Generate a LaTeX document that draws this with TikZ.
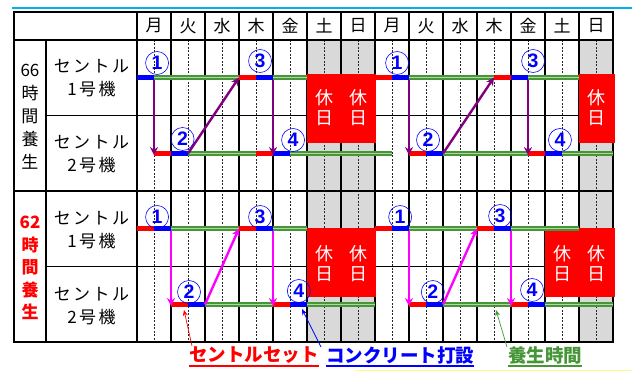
\documentclass[tikz,border=0pt]{standalone}
\usepackage{fontspec}
\setmainfont{Noto Sans CJK JP}
\newfontfamily\digitfont{Liberation Sans}
\usetikzlibrary{arrows.meta}
\definecolor{cgreen}{RGB}{70,150,55}
\definecolor{cgreenl}{RGB}{175,215,165}
\definecolor{cpurple}{RGB}{128,0,128}
\definecolor{cmag}{RGB}{255,0,255}
\definecolor{cgrey}{RGB}{217,217,217}
\definecolor{cblue}{RGB}{0,0,255}
\definecolor{cred}{RGB}{255,0,0}
\definecolor{ccyan}{RGB}{0,176,240}
\newcommand\seg[4]{\fill[#1] (#2,#4-2.6) rectangle (#3,#4+2.6);}
\newcommand\gseg[3]{\draw[gline] (#1,#3) -- (#2,#3);}
\newcommand\lsp{\kern2.5pt}
\begin{document}
\begin{tikzpicture}[x=1pt,y=-1pt,
  gline/.style={draw=cgreen, line width=1.3pt, double=cgreenl, double distance=1.9pt},
  cnum/.style={circle, draw=cblue, line width=0.6pt, inner sep=0pt, minimum size=23pt, text=cblue, font=\digitfont\bfseries\fontsize{19.5}{19.5}\selectfont},
  parr/.style={cpurple, line width=2.4pt, -{Stealth[length=8pt,width=8pt]}},
  marr/.style={cmag, line width=2.4pt, -{Stealth[length=8pt,width=8pt]}},
  holtext/.style={text=white, font=\fontsize{18}{20}\selectfont, align=center, inner sep=0pt},
  daylab/.style={font=\fontsize{17}{17}\selectfont, inner sep=0pt},
  rowlab/.style={font=\fontsize{17}{23}\selectfont, align=center, inner sep=0pt},
  leg/.style={font=\bfseries\fontsize{18.5}{18.5}\selectfont, inner sep=0pt, anchor=west}]
\useasboundingbox (0,0) rectangle (637,374);
\draw[ccyan, line width=1.5pt] (12,8) -- (632,8);
\draw[yellow!45, line width=1pt] (355,370) -- (632,370);

\begin{scope}[xshift=137pt, x=34pt]
  % grey weekend columns
  \fill[cgrey] (5,40) rectangle (7,342);
  \fill[cgrey] (13,40) rectangle (14,342);
  % dashed half-day lines
  \foreach \d in {0,...,13}
    \draw[line width=0.5pt, dash pattern=on 2pt off 1.5pt, black!85] (\d+0.5,40) -- (\d+0.5,342);
  % day column lines
  \foreach \d in {0,...,13}
    \draw[line width=1.3pt] (\d,12) -- (\d,342);
  % day labels
  \foreach \t [count=\i from 0] in {月,火,水,木,金,土,日,月,火,水,木,金,土,日}
    \node[daylab] (day\i) at (\i+0.5,26) {\t};
\end{scope}

% row lines
\draw[line width=1.3pt] (46,115.5) -- (613,115.5);
\draw[line width=1.3pt] (46,266.5) -- (613,266.5);
\draw[line width=1.8pt] (14,40) -- (613,40);
\draw[line width=1.8pt] (14,191) -- (613,191);
\draw[line width=1.3pt] (46,40) -- (46,342);
\draw[line width=2pt] (14,12) rectangle (613,342);

% row labels
\node[rowlab] (t66) at (30,116.5) {66\\時\\間\\養\\生};
\node[rowlab, text=cred, font=\bfseries\fontsize{17}{22.5}\selectfont] (t62) at (30,268) {62\\時\\間\\養\\生};
\node[rowlab] (r1) at (91.5,78.5) {セ\lsp ン\lsp ト\lsp ル\\1\lsp 号\lsp 機};
\node[rowlab] (r2) at (91.5,154) {セ\lsp ン\lsp ト\lsp ル\\2\lsp 号\lsp 機};
\node[rowlab] (r3) at (91.5,230) {セ\lsp ン\lsp ト\lsp ル\\1\lsp 号\lsp 機};
\node[rowlab] (r4) at (91.5,306) {セ\lsp ン\lsp ト\lsp ル\\2\lsp 号\lsp 機};

\begin{scope}[xshift=137pt, x=34pt]
  % holiday blocks
  \fill[cred] (5,74) rectangle (7.03,143);
  \fill[cred] (13,74) rectangle (14.06,143);
  \fill[cred] (5,228) rectangle (7.03,297);
  \fill[cred] (12,228) rectangle (14.06,297);
  \node[holtext] (h1) at (5.5,108) {休\\日};
  \node[holtext] (h2) at (6.5,108) {休\\日};
  \node[holtext] (h3) at (13.5,108) {休\\日};
  \node[holtext] (h4) at (5.5,264) {休\\日};
  \node[holtext] (h5) at (6.5,264) {休\\日};
  \node[holtext] (h6) at (12.5,264) {休\\日};
  \node[holtext] (h7) at (13.5,264) {休\\日};

  % ---------- 66 hours ----------
  \gseg{0.5}{3}{77.5} \gseg{4}{5}{77.5}
  \gseg{8}{10.5}{77.5} \gseg{11.5}{13}{77.5}
  \gseg{1.5}{3.5}{153.5} \gseg{4.5}{7.5}{153.5}
  \gseg{9}{11.5}{153.5} \gseg{12.5}{14}{153.5}
  \seg{cblue}{0}{0.5}{77.5}
  \seg{cred}{3}{3.5}{77.5} \seg{cblue}{3.5}{4}{77.5}
  \seg{cred}{7}{7.5}{77.5} \seg{cblue}{7.5}{8}{77.5}
  \seg{cred}{10.5}{11}{77.5} \seg{cblue}{11}{11.5}{77.5}
  \seg{cred}{0.5}{1}{153.5} \seg{cblue}{1}{1.5}{153.5}
  \seg{cred}{3.5}{4}{153.5} \seg{cblue}{4}{4.5}{153.5}
  \seg{cred}{8}{8.5}{153.5} \seg{cblue}{8.5}{9}{153.5}
  \seg{cred}{11.5}{12}{153.5} \seg{cblue}{12}{12.5}{153.5}
  \coordinate (a1s) at (0.5,80); \coordinate (a1e) at (0.5,155);
  \coordinate (a2s) at (1.5,153.5); \coordinate (a2e) at (3,77.5);
  \coordinate (a3s) at (4,80); \coordinate (a3e) at (4,155);
  \coordinate (a4s) at (8,80); \coordinate (a4e) at (8,155);
  \coordinate (a5s) at (9,153.5); \coordinate (a5e) at (10.5,77.5);
  \coordinate (a6s) at (11.5,80); \coordinate (a6e) at (11.5,155);
  \draw[parr] (a1s) -- (a1e);
  \draw[parr] (a2s) -- (a2e);
  \draw[parr] (a3s) -- (a3e);
  \draw[parr] (a4s) -- (a4e);
  \draw[parr] (a5s) -- (a5e);
  \draw[parr] (a6s) -- (a6e);
  \node[cnum] (n11) at (0.59,63) {1};
  \node[cnum] (n12) at (1.34,139) {2};
  \node[cnum] (n13) at (3.62,61) {3};
  \node[cnum] (n14) at (4.59,140) {4};
  \node[cnum] (n15) at (7.65,63) {1};
  \node[cnum] (n16) at (8.56,140) {2};
  \node[cnum] (n17) at (11.65,61) {3};
  \node[cnum] (n18) at (12.44,140) {4};

  % ---------- 62 hours ----------
  \gseg{1}{3}{228.5} \gseg{4}{5}{228.5}
  \gseg{8}{10}{228.5} \gseg{11}{13}{228.5}
  \gseg{2}{4}{304.5} \gseg{5}{7}{304.5}
  \gseg{9}{11}{304.5} \gseg{12}{14}{304.5}
  \seg{cred}{0}{0.5}{228.5} \seg{cblue}{0.5}{1}{228.5}
  \seg{cred}{3}{3.5}{228.5} \seg{cblue}{3.5}{4}{228.5}
  \seg{cred}{7}{7.5}{228.5} \seg{cblue}{7.5}{8}{228.5}
  \seg{cred}{10}{10.5}{228.5} \seg{cblue}{10.5}{11}{228.5}
  \seg{cred}{1}{1.5}{304.5} \seg{cblue}{1.5}{2}{304.5}
  \seg{cred}{4}{4.5}{304.5} \seg{cblue}{4.5}{5}{304.5}
  \seg{cred}{8}{8.5}{304.5} \seg{cblue}{8.5}{9}{304.5}
  \seg{cred}{11}{11.5}{304.5} \seg{cblue}{11.5}{12}{304.5}
  \coordinate (b1s) at (1,231); \coordinate (b1e) at (1,306);
  \coordinate (b2s) at (2,304.5); \coordinate (b2e) at (3,228.5);
  \coordinate (b3s) at (4,231); \coordinate (b3e) at (4,306);
  \coordinate (b4s) at (8,231); \coordinate (b4e) at (8,306);
  \coordinate (b5s) at (9,304.5); \coordinate (b5e) at (10,228.5);
  \coordinate (b6s) at (11,231); \coordinate (b6e) at (11,306);
  \draw[marr] (b1s) -- (b1e);
  \draw[marr] (b2s) -- (b2e);
  \draw[marr] (b3s) -- (b3e);
  \draw[marr] (b4s) -- (b4e);
  \draw[marr] (b5s) -- (b5e);
  \draw[marr] (b6s) -- (b6e);
  \node[cnum] (m11) at (0.59,217) {1};
  \node[cnum] (m12) at (1.53,292) {2};
  \node[cnum] (m13) at (3.62,217) {3};
  \node[cnum] (m14) at (4.76,291) {4};
  \node[cnum] (m15) at (7.74,217) {1};
  \node[cnum] (m16) at (8.7,292) {2};
  \node[cnum] (m17) at (10.68,216) {3};
  \node[cnum] (m18) at (11.62,290) {4};
\end{scope}

% legend
\node[leg, text=cred] (lg1) at (189,355) {セントルセット};
\node[leg, text=cblue] (lg2) at (326,355) {コンクリート打設};
\node[leg, text=cgreen] (lg3) at (508,355) {養生時間};
\draw[cred, line width=1.2pt] (189,366) -- (lg1.east |- 0,366);
\draw[cblue, line width=1.2pt] (326,366) -- (lg2.east |- 0,366);
\draw[cgreen, line width=1.2pt] (508,366) -- (lg3.east |- 0,366);
\coordinate (p1) at (184,310);
\coordinate (p2) at (302,309);
\coordinate (p3) at (496,310);
\draw[cred, line width=0.7pt, -{Stealth[length=6pt,width=5pt]}] (192,346) -- (p1);
\draw[cblue, line width=0.7pt, -{Stealth[length=6pt,width=5pt]}] (321,347) -- (p2);
\draw[cgreen, line width=0.7pt, -{Stealth[length=6pt,width=5pt]}] (507,347) -- (p3);
\end{tikzpicture}
\end{document}
